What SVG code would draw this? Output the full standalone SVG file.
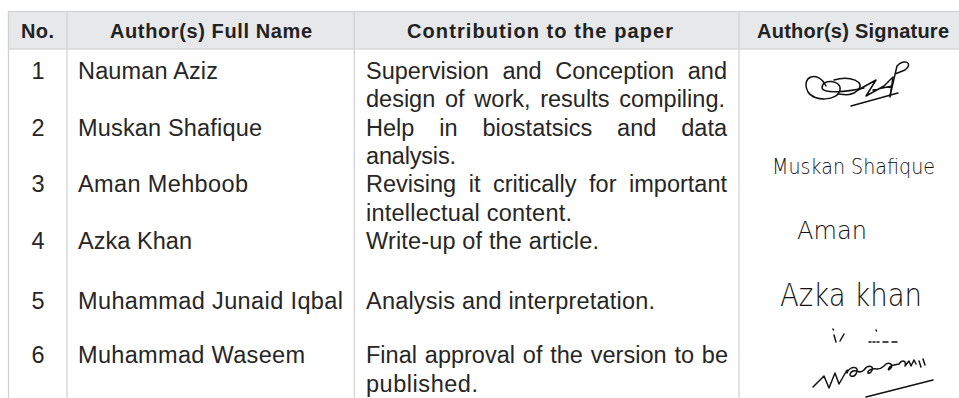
<svg xmlns="http://www.w3.org/2000/svg" width="959" height="398" viewBox="0 0 959 398">
  <style>
    .hd { font-family: "Liberation Sans", Arial, sans-serif; font-weight: bold; font-size: 20px; fill: #222; text-anchor: middle; }
    .tx { font-family: "Liberation Sans", Arial, sans-serif; font-size: 23.5px; fill: #262626; }
    .num { text-anchor: middle; }
    .grid { stroke: #cfcfcf; stroke-width: 1.2; fill: none; }
    .sig { font-family: "DejaVu Sans", sans-serif; font-weight: 200; fill: #111; }
    .scr { fill: none; stroke: #111; stroke-width: 1.5; stroke-linecap: round; stroke-linejoin: round; }
  </style>
  <rect width="959" height="398" fill="#ffffff"/>

  <g id="header">
    <rect x="8.5" y="11.5" width="960" height="37.5" fill="#e7e8e9" stroke="#d2d2d2" stroke-width="1.2"/>
    <text class="hd" x="37.5" y="38" textLength="33">No.</text>
    <text class="hd" x="211" y="38" textLength="202">Author(s) Full Name</text>
    <text class="hd" x="540" y="38" textLength="266">Contribution to the paper</text>
    <text class="hd" x="853" y="38" textLength="192">Author(s) Signature</text>
  </g>

  <g id="grid-lines">
    <line class="grid" x1="8.5" y1="11.5" x2="8.5" y2="398"/>
    <line class="grid" x1="67" y1="11.5" x2="67" y2="398"/>
    <line class="grid" x1="354.3" y1="11.5" x2="354.3" y2="398"/>
    <line class="grid" x1="739" y1="11.5" x2="739" y2="398"/>
  </g>

  <g id="row-1">
    <text class="tx num" x="38" y="79">1</text>
    <text class="tx" x="78" y="79" textLength="140">Nauman Aziz</text>
    <text class="tx" x="366" y="79" word-spacing="7.1" textLength="361">Supervision and Conception and</text>
    <text class="tx" x="366" y="107" word-spacing="3.2" textLength="359">design of work, results compiling.</text>
    <g id="sig-1">
      <path class="scr" d="M 826 86 C 818 70, 800 76, 808 92 C 814 102, 838 101, 840 90 C 842 80, 822 78, 822 88 C 824 94, 846 92, 864 88"/>
      <path class="scr" d="M 834 80 C 850 75, 866 82, 858 90 C 852 96, 846 95, 838 94"/>
      <path class="scr" d="M 858 90 L 876 80 L 866 96 L 884 86 L 893 77 L 890 97 M 873 90 L 892 86"/>
      <path class="scr" d="M 890 96 L 897 66 C 904 58, 914 63, 905 70 L 895 74"/>
      <path class="scr" d="M 851 106 L 898 93" stroke-width="1.1"/>
    </g>
  </g>

  <g id="row-2">
    <text class="tx num" x="38" y="136">2</text>
    <text class="tx" x="78" y="136" textLength="184">Muskan Shafique</text>
    <text class="tx" x="366" y="136" word-spacing="18.4" textLength="361">Help in biostatsics and data</text>
    <text class="tx" x="366" y="164" textLength="90">analysis.</text>
    <text class="sig" x="772" y="174" font-size="22" textLength="163" lengthAdjust="spacingAndGlyphs">Muskan Shafique</text>
  </g>

  <g id="row-3">
    <text class="tx num" x="38" y="192">3</text>
    <text class="tx" x="78" y="192" textLength="170">Aman Mehboob</text>
    <text class="tx" x="366" y="192" word-spacing="6" textLength="361">Revising it critically for important</text>
    <text class="tx" x="366" y="221" textLength="206">intellectual content.</text>
    <text class="sig" x="797" y="239" font-size="25" textLength="70" lengthAdjust="spacingAndGlyphs">Aman</text>
  </g>

  <g id="row-4">
    <text class="tx num" x="38" y="249">4</text>
    <text class="tx" x="78" y="249" textLength="114">Azka Khan</text>
    <text class="tx" x="366" y="249" textLength="233">Write-up of the article.</text>
    <text class="sig" x="780" y="306" font-size="32" textLength="142" lengthAdjust="spacingAndGlyphs">Azka khan</text>
  </g>

  <g id="row-5">
    <text class="tx num" x="38" y="309">5</text>
    <text class="tx" x="78" y="309" textLength="265">Muhammad Junaid Iqbal</text>
    <text class="tx" x="366" y="309" textLength="289">Analysis and interpretation.</text>
    <g id="sig-5-marks">
      <path class="scr" d="M 833 329 L 833.5 330 M 834 335 L 836 342 M 840 341 L 844 334 M 876 330 L 876.5 331" stroke-width="1.1"/>
      <path class="scr" d="M 869 342 L 871 342 M 873 342 L 875 342 M 877 342 L 879 342 M 883 342 L 888 342 M 892 342 L 897 342" stroke-width="0.9"/>
    </g>
  </g>

  <g id="row-6">
    <text class="tx num" x="38" y="363">6</text>
    <text class="tx" x="78" y="363" textLength="227">Muhammad Waseem</text>
    <text class="tx" x="366" y="363" word-spacing="1.3" textLength="362">Final approval of the version to be</text>
    <text class="tx" x="366" y="392" textLength="112">published.</text>
    <g id="sig-6">
      <path class="scr" stroke-width="1.8" d="M 813 387 L 824 376 L 829 388 L 835 373 L 839 384 L 847 370 M 847 373 C 850 365, 861 366, 856 374 C 853 379, 846 375, 853 371 C 857 369, 859 375, 864 370 C 868 364, 876 366, 871 372 C 867 376, 866 370, 873 369 C 877 368, 879 371, 884 366 C 888 361, 895 364, 890 369 C 887 372, 888 366, 894 365 L 899 364 C 902 359, 907 361, 905 366 L 909 361 L 911 366 L 914 360 L 916 364"/>
      <path class="scr" d="M 919 361 L 921 367 M 923 359 L 925 365" stroke-width="1.8"/>
      <path class="scr" d="M 866 397 L 933 380" stroke-width="1.1"/>
    </g>
  </g>
</svg>
